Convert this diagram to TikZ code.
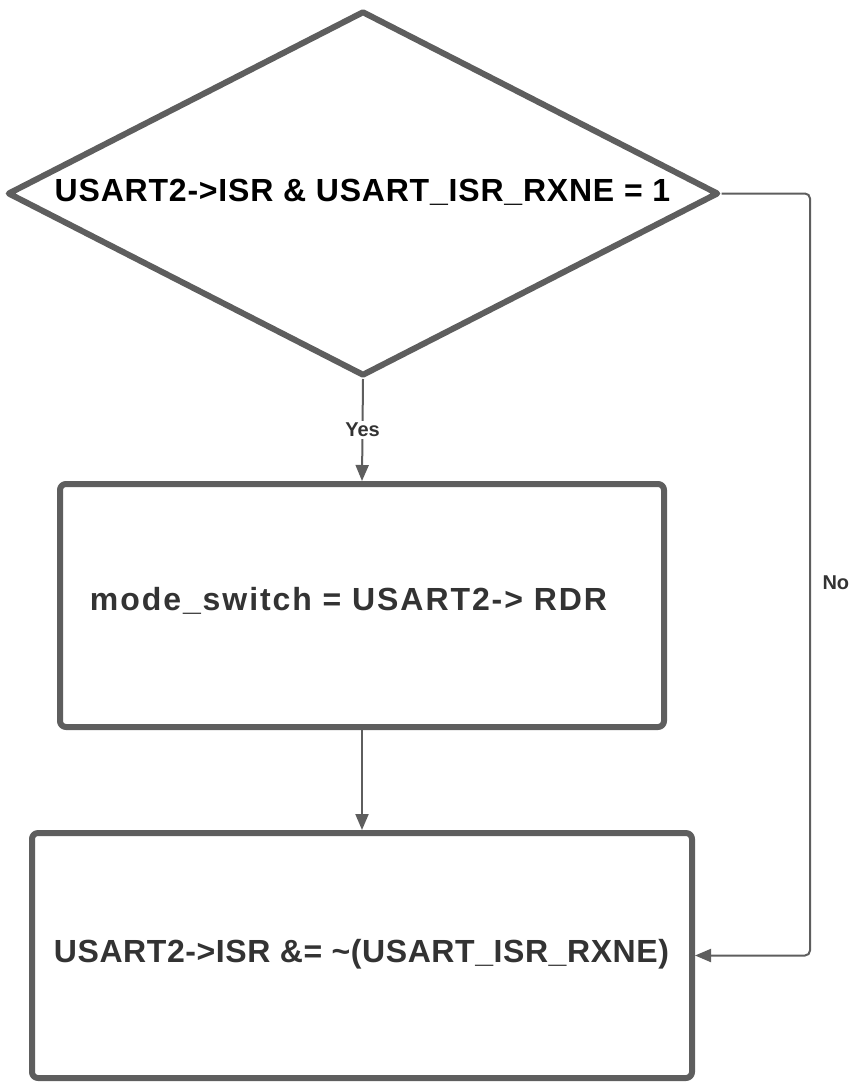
\documentclass[tikz,border=0pt]{standalone}
\usepackage{fontspec}
\setmainfont{Liberation Sans}
\newfontfamily\labfont[LetterSpace=2.5]{Liberation Sans}
\newfontfamily\clrfont[LetterSpace=1.8]{Liberation Sans}
\newfontfamily\modefont[LetterSpace=6]{Liberation Sans}
\usetikzlibrary{shapes.geometric,arrows.meta}
\definecolor{edge}{HTML}{5E5E5E}
\definecolor{txt}{HTML}{333333}
\tikzset{
  shapeline/.style={draw=edge,line width=6pt,line join=round},
  procbox/.style={shapeline,rectangle,rounded corners=6pt,inner sep=0pt,fill=white},
  conn/.style={draw=edge,line width=2pt,-{Triangle[length=16pt,width=13pt]}},
  small/.style={font=\fontsize{20}{24}\selectfont\bfseries,text=txt}
}
\begin{document}
\begin{tikzpicture}[x=1pt,y=-1pt]
\useasboundingbox (0,0) rectangle (853,1089);
\node[shapeline,diamond,minimum width=711pt,minimum height=365pt,inner sep=0pt,aspect=1.945] (dec) at (363,193.5) {};
\node[font=\fontsize{32}{36}\selectfont\bfseries\labfont,text=black,inner sep=0pt] (dtxt) at (362.5,192) {USART2->ISR \& USART\_ISR\_RXNE = 1};
\node[procbox,minimum width=604pt,minimum height=243pt] (b1) at (362,605.5) {};
\node[font=\fontsize{32}{36}\selectfont\bfseries\modefont,text=txt,inner sep=0pt] (t1) at (348.5,601) {mode\_switch = USART2-> RDR};
\node[procbox,minimum width=660pt,minimum height=245pt] (b2) at (362,955.5) {};
\node[font=\fontsize{32}{36}\selectfont\bfseries\clrfont,text=txt,inner sep=0pt] (t2) at (361.5,954) {USART2->ISR \&= \textasciitilde(USART\_ISR\_RXNE)};
\draw[conn] (dec.south) -- node[small,fill=white,inner sep=2pt] (yes) {Yes} (b1.north);
\draw[conn] (b1.south) -- (b2.north);
\coordinate (c1) at (810,193.5);
\coordinate (c2) at (810,955.5);
\draw[conn,rounded corners=5pt] (dec.east) -- (c1) -- (c2) -- (b2.east);
\node[small,anchor=west] (no) at (819,583) {No};
\end{tikzpicture}
\end{document}
